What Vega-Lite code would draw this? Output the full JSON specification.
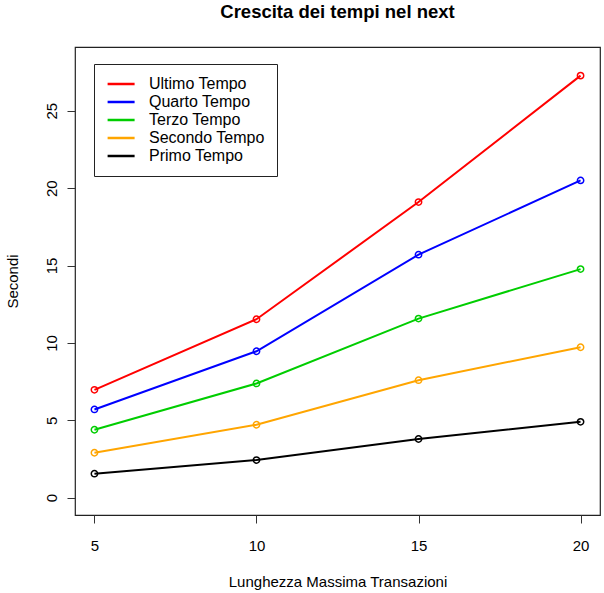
{
  "$schema": "https://vega.github.io/schema/vega-lite/v6.json",
  "autosize": {"type": "none"},
  "padding": {"left": 75, "top": 47, "right": 4, "bottom": 78},
  "width": 525,
  "height": 468,
  "background": "white",
  "title": {
    "text": "Crescita dei tempi nel next",
    "font": "Liberation Sans",
    "fontSize": 18.5,
    "fontWeight": "bold",
    "color": "black",
    "anchor": "middle",
    "offset": 26
  },
  "config": {
    "font": "Liberation Sans",
    "view": {"stroke": "#222222", "strokeWidth": 1.2},
    "axis": {
      "grid": false,
      "domain": false,
      "tickColor": "#333333",
      "tickSize": 8,
      "tickWidth": 1,
      "labelFont": "Liberation Sans",
      "labelFontSize": 15,
      "labelColor": "black",
      "titleFont": "Liberation Sans",
      "titleFontSize": 15,
      "titleFontWeight": "normal",
      "titleColor": "black"
    }
  },
  "data": {
    "values": [
      {"serie": "Ultimo Tempo", "x": 5, "y": 6.97},
      {"serie": "Ultimo Tempo", "x": 10, "y": 11.53},
      {"serie": "Ultimo Tempo", "x": 15, "y": 19.1},
      {"serie": "Ultimo Tempo", "x": 20, "y": 27.27},
      {"serie": "Quarto Tempo", "x": 5, "y": 5.7},
      {"serie": "Quarto Tempo", "x": 10, "y": 9.46},
      {"serie": "Quarto Tempo", "x": 15, "y": 15.7},
      {"serie": "Quarto Tempo", "x": 20, "y": 20.5},
      {"serie": "Terzo Tempo", "x": 5, "y": 4.39},
      {"serie": "Terzo Tempo", "x": 10, "y": 7.38},
      {"serie": "Terzo Tempo", "x": 15, "y": 11.57},
      {"serie": "Terzo Tempo", "x": 20, "y": 14.77},
      {"serie": "Secondo Tempo", "x": 5, "y": 2.9},
      {"serie": "Secondo Tempo", "x": 10, "y": 4.71},
      {"serie": "Secondo Tempo", "x": 15, "y": 7.59},
      {"serie": "Secondo Tempo", "x": 20, "y": 9.72},
      {"serie": "Primo Tempo", "x": 5, "y": 1.55},
      {"serie": "Primo Tempo", "x": 10, "y": 2.43},
      {"serie": "Primo Tempo", "x": 15, "y": 3.79},
      {"serie": "Primo Tempo", "x": 20, "y": 4.9}
    ]
  },
  "encoding": {
    "x": {
      "field": "x",
      "type": "quantitative",
      "title": "Lunghezza Massima Transazioni",
      "scale": {"domain": [4.4, 20.6], "nice": false, "zero": false},
      "axis": {"values": [5, 10, 15, 20], "labelPadding": 15, "titlePadding": 21}
    },
    "y": {
      "field": "y",
      "type": "quantitative",
      "title": "Secondi",
      "scale": {"domain": [-1.12, 29.12], "nice": false, "zero": false},
      "axis": {"values": [0, 5, 10, 15, 20, 25], "labelAngle": 270, "labelPadding": 8, "titlePadding": 24}
    },
    "color": {
      "field": "serie",
      "type": "nominal",
      "scale": {
        "domain": ["Ultimo Tempo", "Quarto Tempo", "Terzo Tempo", "Secondo Tempo", "Primo Tempo"],
        "range": ["#ff0000", "#0000ff", "#00cd00", "#ffa500", "#000000"]
      },
      "legend": {
        "title": null,
        "orient": "none",
        "legendX": 19,
        "legendY": 17,
        "symbolType": "M-1.6,0L5.15,0",
        "symbolSize": 64,
        "symbolStrokeWidth": 2.5,
        "labelFont": "Liberation Sans",
        "labelFontSize": 16,
        "labelColor": "black",
        "labelOffset": 27,
        "rowPadding": 2,
        "padding": 12,
        "strokeColor": "#222222",
        "fillColor": "white"
      }
    }
  },
  "layer": [
    {
      "mark": {"type": "line", "strokeWidth": 2}
    },
    {
      "mark": {"type": "point", "shape": "circle", "filled": false, "size": 40, "strokeWidth": 1.5, "opacity": 1}
    }
  ]
}
